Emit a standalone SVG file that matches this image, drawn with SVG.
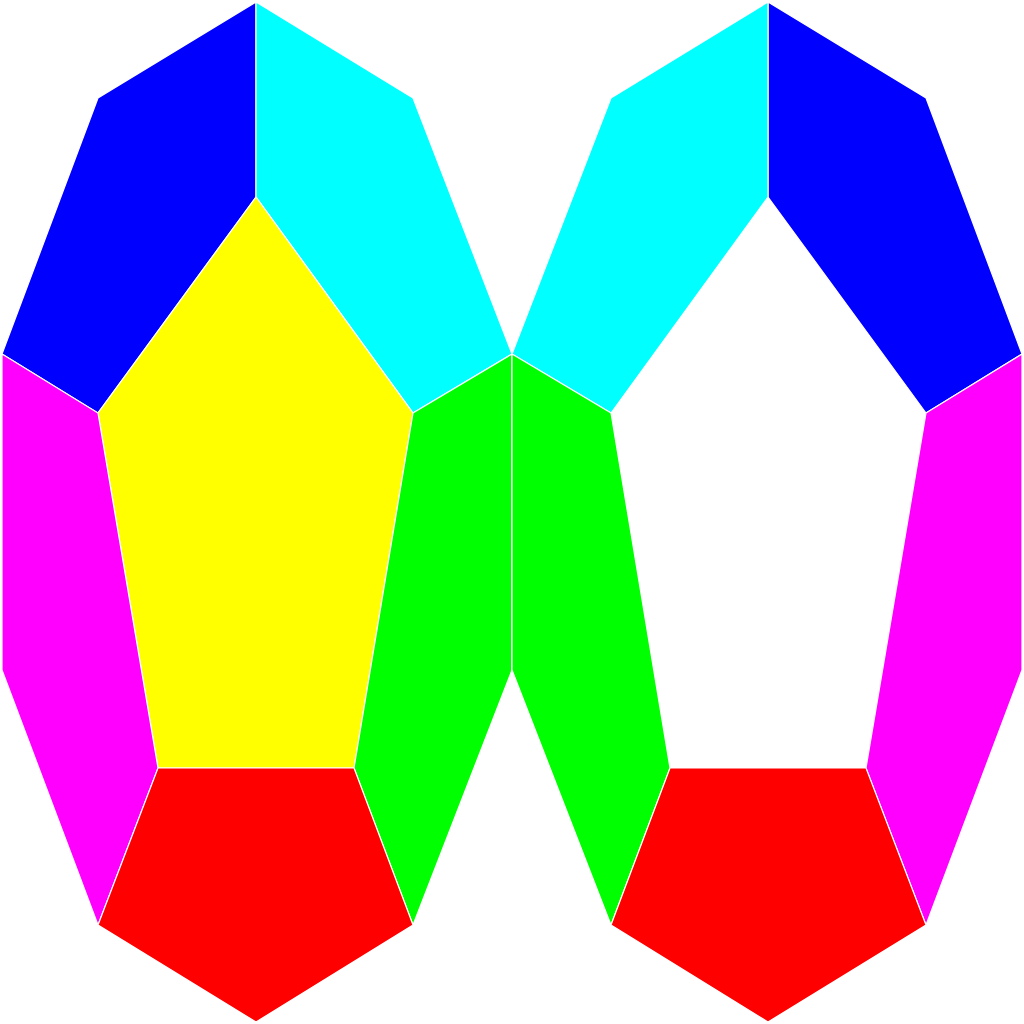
<svg xmlns="http://www.w3.org/2000/svg" width="1024" height="1024" viewBox="0 0 1024 1024">
<style>
polygon{stroke:#fff;stroke-width:1.2;stroke-linejoin:miter}
.b{fill:#0000ff}.c{fill:#00ffff}.y{fill:#ffff00}.m{fill:#ff00ff}.g{fill:#00ff00}.r{fill:#ff0000}
</style>
<rect width="1024" height="1024" fill="#fff"/>
<g id="left">
<polygon id="l-blue" class="b" points="256,2 98,98 2,354 98,413 256,197"/>
<polygon id="l-cyan" class="c" points="256,2 413,98 512,354 413,413 256,197"/>
<polygon id="l-yellow" class="y" points="256,197 413,413 354,768 158,768 98,413"/>
<polygon id="l-magenta" class="m" points="2,354 98,413 158,768 98,925 2,670"/>
<polygon id="l-green" class="g" points="413,413 512,354 512,670 413,925 354,768"/>
<polygon id="l-red" class="r" points="158,768 354,768 413,925 256,1022 98,925"/>
</g>
<g id="right">
<polygon id="r-blue" class="b" points="768,2 926,98 1022,354 926,413 768,197"/>
<polygon id="r-cyan" class="c" points="768,2 611,98 512,354 611,413 768,197"/>
<polygon id="r-green" class="g" points="611,413 512,354 512,670 611,925 670,768"/>
<polygon id="r-magenta" class="m" points="926,413 1022,354 1022,670 926,925 866,768"/>
<polygon id="r-red" class="r" points="670,768 866,768 926,925 768,1022 611,925"/>
</g>
</svg>
